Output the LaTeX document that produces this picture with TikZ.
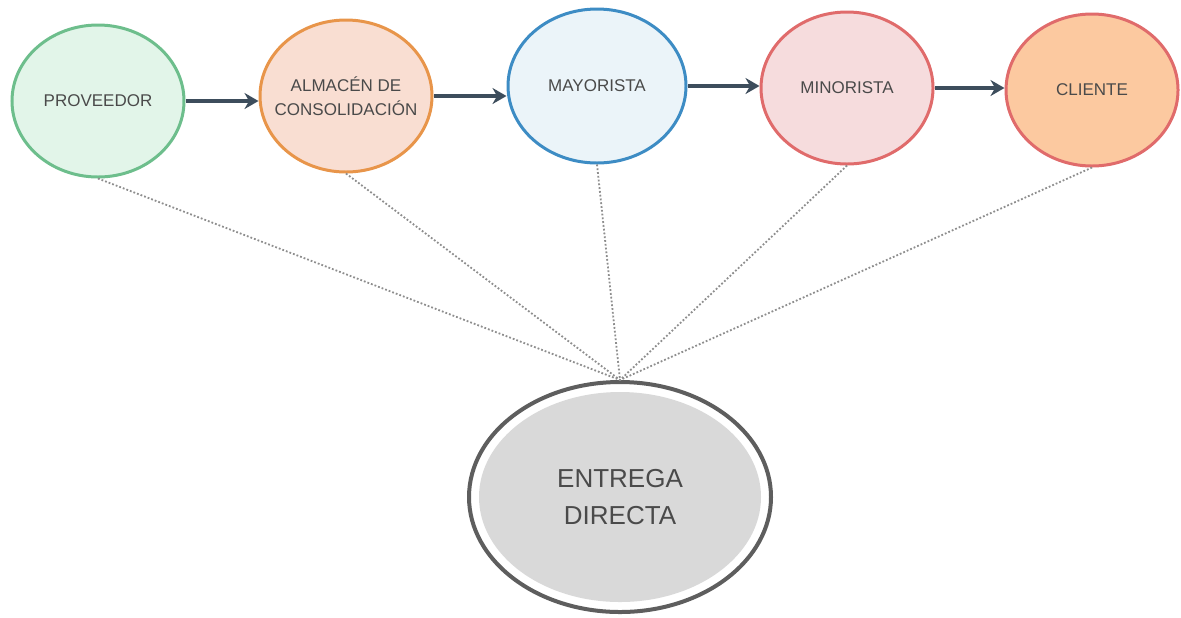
\documentclass[tikz,border=0pt]{standalone}
\usepackage{fontspec}
\setmainfont{Liberation Sans}
\usetikzlibrary{shapes.geometric, arrows.meta}

\definecolor{txtgray}{HTML}{4A4A4A}
\definecolor{arrcol}{HTML}{3D4D5C}
\definecolor{linkgray}{HTML}{8E8E8E}
\definecolor{ringgray}{HTML}{5E5E5E}
\definecolor{entfill}{HTML}{D9D9D9}

\begin{document}
\begin{tikzpicture}[
  x=0.5pt, y=-0.5pt,
  font=\fontsize{8.5}{12}\selectfont,
  stage/.style ={ellipse, line width=1.5pt, minimum width=86pt, minimum height=76pt,
                 inner sep=0pt, align=center, text=txtgray},
  prv/.style   ={stage, draw={rgb,255:red,109;green,190;blue,140}, fill={rgb,255:red,226;green,245;blue,233}},
  alm/.style   ={stage, draw={rgb,255:red,232;green,149;blue,74},  fill={rgb,255:red,249;green,222;blue,210},
                 inner xsep=-7pt},
  may/.style   ={stage, draw={rgb,255:red,61;green,140;blue,196},  fill={rgb,255:red,235;green,244;blue,249},
                 minimum width=89pt, minimum height=77pt},
  mnr/.style   ={stage, draw={rgb,255:red,224;green,107;blue,107}, fill={rgb,255:red,246;green,220;blue,221}},
  cli/.style   ={stage, draw={rgb,255:red,224;green,107;blue,107}, fill={rgb,255:red,252;green,201;blue,160}},
  hub/.style   ={ellipse, draw=ringgray, line width=2pt, fill=white, inner sep=0pt,
                 minimum width=151pt, minimum height=115pt, align=center, text=txtgray,
                 font=\fontsize{13}{18.5}\selectfont,
                 path picture={\fill[entfill] (path picture bounding box.center)
                               ellipse [x radius=70.5pt, y radius=52.5pt];}},
  arr/.style   ={-{Stealth[length=7pt, width=8pt]}, draw=arrcol, line width=2pt},
  link/.style  ={draw=linkgray, line width=0.9pt, densely dotted},
]
\useasboundingbox (0,0) rectangle (1181,617);

% --- Row: supply chain stages ---
\node[prv] (prov) at (98, 101)  {PROVEEDOR};
\node[alm] (almc) at (346, 96)  {ALMACÉN DE\\CONSOLIDACIÓN};
\node[may] (mayo) at (597, 86)  {MAYORISTA};
\node[mnr] (mino) at (847, 88)  {MINORISTA};
\node[cli] (clie) at (1092, 90) {CLIENTE};

% --- Direct delivery ---
\node[hub] (entr) at (620, 497) {ENTREGA\\DIRECTA};

% --- Arrows ---
\draw[arr] (prov.east) -- (prov.east -| almc.west);
\draw[arr] (almc.east) -- (almc.east -| mayo.west);
\draw[arr] (mayo.east) -- (mayo.east -| mino.west);
\draw[arr] (mino.east) -- (mino.east -| clie.west);

% --- Dotted links ---
\draw[link] (prov.south) -- (entr.north);
\draw[link] (almc.south) -- (entr.north);
\draw[link] (mayo.south) -- (entr.north);
\draw[link] (mino.south) -- (entr.north);
\draw[link] (clie.south) -- (entr.north);
\end{tikzpicture}
\end{document}
